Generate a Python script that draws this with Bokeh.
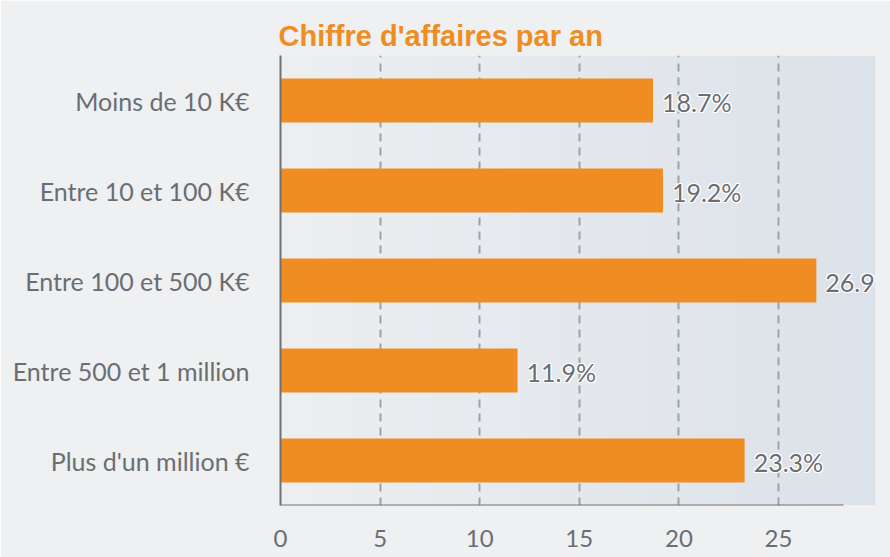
import numpy as np
from bokeh.plotting import figure
from bokeh.models import Range1d, FixedTicker, ColumnDataSource
from bokeh.core.properties import value
from bokeh.embed import file_html
from bokeh.resources import INLINE

categories = ["Moins de 10 K€", "Entre 10 et 100 K€", "Entre 100 et 500 K€",
              "Entre 500 et 1 million", "Plus d'un million €"]
shares = [18.7, 19.2, 26.9, 11.9, 23.3]
x_ticks = [0, 5, 10, 15, 20, 25]
title_text = "Chiffre d'affaires par an"

n = len(categories)
ys = [n - i - 0.5 for i in range(n)]
labels = [f"{v}%" for v in shares]
src = ColumnDataSource(dict(y=ys, v=shares, lab=labels, cat=categories))

XMAX = 29.87
BG = "#eef0f1"
ORANGE = "#ef8d22"
GREY = "#6a6e73"

p = figure(width=890, height=557, output_backend="svg", toolbar_location=None,
           x_range=Range1d(0, XMAX), y_range=Range1d(0, n),
           min_border_left=280, min_border_right=15, min_border_top=55,
           min_border_bottom=52)
p.background_fill_color = BG
p.border_fill_color = BG
p.outline_line_color = None

# soft horizontal background gradient inside the plot area
w = 200
c0 = np.array([0xed, 0xef, 0xf1], dtype=float)
c1 = np.array([0xdc, 0xe2, 0xe9], dtype=float)
t = np.linspace(0, 1, w)[:, None]
cols = (c0 * (1 - t) + c1 * t).astype(np.uint32)
img = np.empty((1, w), dtype=np.uint32)
view = img.view(dtype=np.uint8).reshape((1, w, 4))
view[0, :, 0] = cols[:, 0]
view[0, :, 1] = cols[:, 1]
view[0, :, 2] = cols[:, 2]
view[0, :, 3] = 255
p.image_rgba(image=[img], x=0, y=0, dw=XMAX, dh=n, level="image")

p.hbar(y="y", right="v", left=0, height=0.49, source=src,
       fill_color=ORANGE, line_color=None)

# white halo behind value labels
for dx, dy in [(-1, 0), (1, 0), (0, -1), (0, 1), (-1, -1), (1, 1), (-1, 1), (1, -1)]:
    p.text(x="v", y="y", text="lab", source=src, x_offset=9 + dx, y_offset=dy + 1,
           text_align="left", text_baseline="middle", text_color="white",
           text_font=value("Lato"), text_font_size="25px")
p.text(x="v", y="y", text="lab", source=src, x_offset=9, y_offset=1,
       text_align="left", text_baseline="middle", text_color=GREY,
       text_font=value("Lato"), text_font_size="25px")

# bottom axis line (limited extent)
p.segment(x0=[0], y0=[0], x1=[28.26], y1=[0], line_color="#6f7378", line_width=2)

p.xaxis.ticker = FixedTicker(ticks=x_ticks)
p.xaxis.axis_line_color = None
p.xaxis.major_tick_line_color = None
p.xaxis.minor_tick_line_color = None
p.xaxis.major_label_standoff = 18
p.xaxis.major_label_text_font = "Lato"
p.xaxis.major_label_text_font_size = "24px"
p.xaxis.major_label_text_color = GREY

p.yaxis.ticker = FixedTicker(ticks=ys)
p.yaxis.major_label_overrides = {y: c for y, c in zip(ys, categories)}
p.yaxis.axis_line_color = "#6f7378"
p.yaxis.axis_line_width = 2
p.yaxis.major_tick_line_color = None
p.yaxis.minor_tick_line_color = None
p.yaxis.major_label_standoff = 25
p.yaxis.major_label_text_font = "Lato"
p.yaxis.major_label_text_font_size = "25px"
p.yaxis.major_label_text_color = GREY

p.ygrid.grid_line_color = None
p.xgrid.ticker = FixedTicker(ticks=x_ticks[1:])
p.xgrid.grid_line_color = "#9ea2a7"
p.xgrid.grid_line_dash = "8 6"
p.xgrid.grid_line_width = 2

p.title.text = title_text
p.title.align = "left"
p.title.offset = -2
p.title.standoff = 8
p.title.text_font = "Liberation Sans"
p.title.text_font_style = "bold"
p.title.text_font_size = "29px"
p.title.text_color = ORANGE

open("out.html", "w").write(file_html(p, INLINE))
